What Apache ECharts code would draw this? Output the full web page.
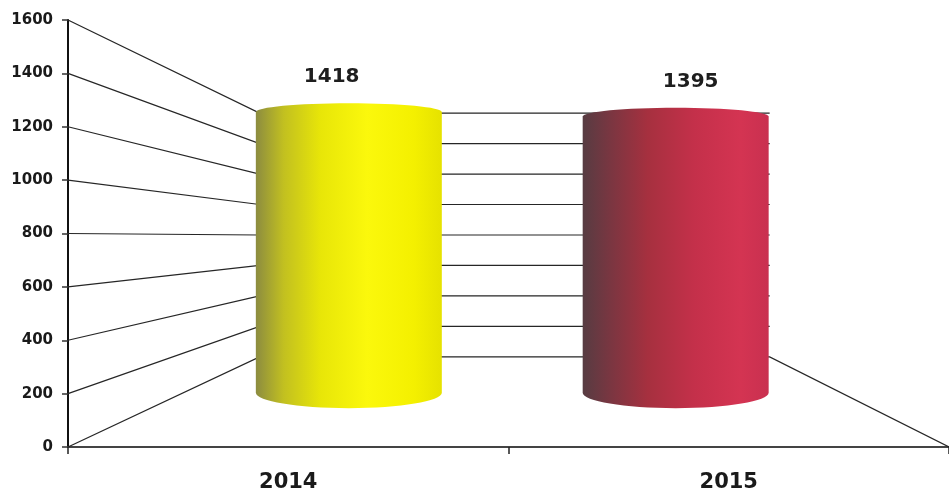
<!DOCTYPE html>
<html>
<head>
<meta charset="utf-8">
<script src="https://cdn.jsdelivr.net/npm/echarts@6/dist/echarts.min.js"></script>
<style>html,body{margin:0;padding:0;background:#fff;}#chart{width:949px;height:493px;}</style>
</head>
<body>
<div id="chart"></div>
<script>
const categories = ['2014', '2015'];
const values = [1418, 1395];
const yTicks = [0, 200, 400, 600, 800, 1000, 1200, 1400, 1600];
const cylinderColors = [
  ['#8c8c40', '#c2c020', '#e8e608', '#fbf80c', '#f4f000', '#e6e200'],
  ['#573c42', '#7a3641', '#a6303f', '#c4304a', '#d43452', '#c93050']
];

// perspective settings (fractions of the grid / depth factors)
const VP_X_FRAC = 0.5165;   // vanishing point x, fraction of grid width
const VP_Y_VALUE = 787;     // vanishing point y, in axis value units
const BACK_KX = 0.579, BACK_KY = 0.571;
const CYL_K = 0.742;
const LABEL_KX = 0.815;
const BAR_FRAC = 0.569;

const chart = echarts.init(document.getElementById('chart'), null, {renderer: 'canvas'});

function vp(params, api) {
  const cs = params.coordSys;
  return [cs.x + VP_X_FRAC * cs.width, api.coord([0, VP_Y_VALUE])[1]];
}
function proj(p, v, kx, ky) {
  return [v[0] + kx * (p[0] - v[0]), v[1] + ky * (p[1] - v[1])];
}

const option = {
  animation: false,
  backgroundColor: '#ffffff',
  grid: {left: 68, right: 0, top: 20, bottom: 46},
  xAxis: {
    type: 'category',
    data: categories,
    axisLine: {lineStyle: {color: '#444', width: 2}},
    axisTick: {show: true, length: 7, lineStyle: {color: '#222', width: 1.5}},
    axisLabel: {fontFamily: 'DejaVu Sans', fontWeight: 'bold', fontSize: 21, color: '#1a1a1a', margin: 25},
    splitLine: {show: false}
  },
  yAxis: {
    type: 'value',
    min: 0, max: 1600, interval: 200,
    axisLine: {show: true, lineStyle: {color: '#111', width: 2}},
    axisTick: {show: true, length: 6, lineStyle: {color: '#333', width: 1.5}},
    axisLabel: {
      fontFamily: 'DejaVu Sans', fontWeight: 'bold', fontSize: 15, color: '#1a1a1a', margin: 15,
      formatter: function (v) { return String(v); }
    },
    splitLine: {show: false}
  },
  series: [
    {
      type: 'custom',
      z: 1,
      silent: true,
      data: yTicks.map(v => [0, v]),
      renderItem: function (params, api) {
        const cs = params.coordSys;
        const v = api.value(1);
        const y = api.coord([0, v])[1];
        const V = vp(params, api);
        const fl = [cs.x, y], fr = [cs.x + cs.width, y];
        const bl = proj(fl, V, BACK_KX, BACK_KY);
        const br = proj(fr, V, BACK_KX, BACK_KY);
        const pts = [fl, bl, br];
        if (v === 0) pts.push(fr);
        return {
          type: 'polyline',
          shape: {points: pts},
          style: {stroke: '#262626', lineWidth: 1.2, fill: null}
        };
      }
    },
    {
      type: 'custom',
      z: 5,
      silent: true,
      data: values.map((v, i) => [i, v]),
      renderItem: function (params, api) {
        const i = api.value(0);
        const V = vp(params, api);
        const f0 = api.coord([i, 0]);
        const fv = api.coord([i, api.value(1)]);
        const bandW = api.size([1, 0])[0];
        const b = proj(f0, V, CYL_K, CYL_K);
        const t = proj(fv, V, CYL_K, CYL_K);
        const cx = b[0];
        const rx = bandW * BAR_FRAC * CYL_K / 2;
        const ryT = rx * 0.095, ryB = rx * 0.165;
        const k = 0.5523;
        const ty = t[1], by = b[1];
        const d = [
          'M', cx - rx, ty,
          'C', cx - rx, ty - ryT * k, cx - rx * k, ty - ryT, cx, ty - ryT,
          'C', cx + rx * k, ty - ryT, cx + rx, ty - ryT * k, cx + rx, ty,
          'L', cx + rx, by,
          'C', cx + rx, by + ryB * k, cx + rx * k, by + ryB, cx, by + ryB,
          'C', cx - rx * k, by + ryB, cx - rx, by + ryB * k, cx - rx, by,
          'Z'
        ].join(' ');
        const cols = cylinderColors[i];
        const stops = [0, 0.15, 0.35, 0.6, 0.85, 1].map((o, j) => ({offset: o, color: cols[j]}));
        const lx = V[0] + LABEL_KX * (fv[0] - V[0]);
        return {
          type: 'group',
          children: [
            {
              type: 'path',
              shape: {pathData: d},
              style: {fill: {type: 'linear', x: 0, y: 0, x2: 1, y2: 0, colorStops: stops}, stroke: null}
            },
            {
              type: 'text',
              style: {
                x: lx, y: ty - ryT - 26,
                text: String(api.value(1)),
                fontFamily: 'DejaVu Sans', fontWeight: 'bold', fontSize: 20,
                fill: '#1e1e1e', align: 'center', verticalAlign: 'middle'
              }
            }
          ]
        };
      }
    }
  ]
};
chart.setOption(option);
</script>
</body>
</html>
